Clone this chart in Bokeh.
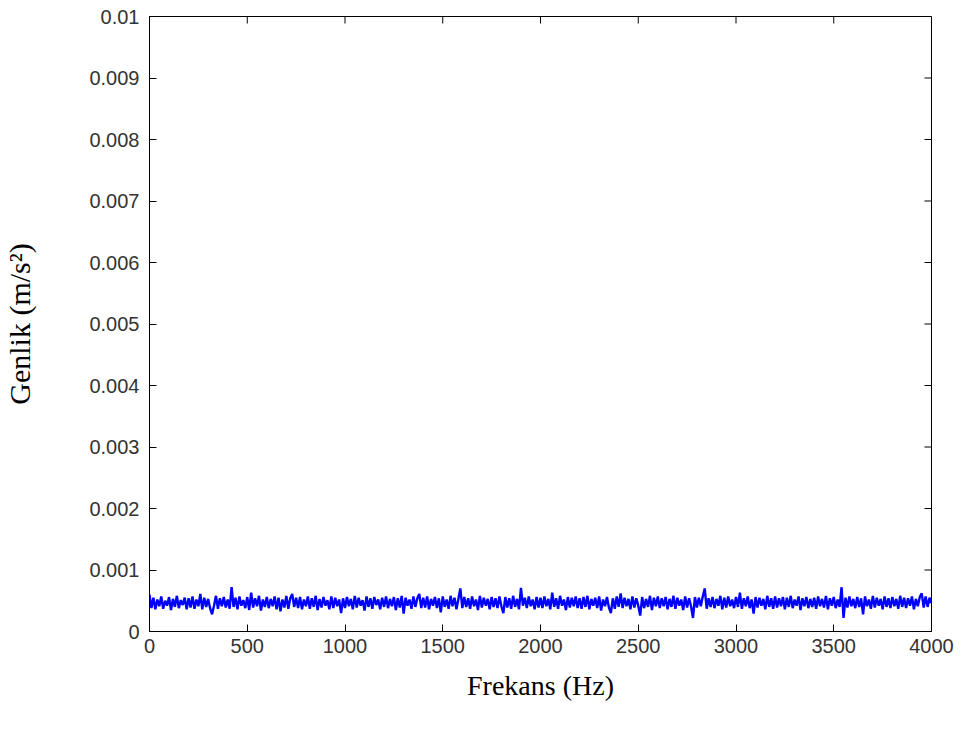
import numpy as np
from bokeh.plotting import figure
from bokeh.models import Range1d, FixedTicker, CustomJSTickFormatter, ColumnDataSource
from bokeh.embed import file_html
from bokeh.resources import INLINE

# Amplitude spectrum, in units of 1e-5 m/s^2, one value every 10 Hz (0..4000 Hz)
amplitude_1e5 = [
    60, 38, 55, 36, 52, 41, 57, 37, 50, 42, 56, 35, 53, 40, 58, 38, 51, 43, 55, 36,
    54, 39, 57, 37, 52, 41, 61, 36, 55, 40, 53, 38, 28, 42, 58, 37, 54, 41, 56, 39,
    52, 37, 72, 40, 55, 36, 57, 42, 51, 38, 56, 35, 63, 39, 54, 41, 58, 34, 52, 40,
    56, 38, 53, 41, 57, 36, 55, 33, 52, 39, 58, 37, 54, 61, 40, 55, 38, 56, 36, 52,
    41, 57, 37, 54, 40, 58, 35, 53, 39, 56, 42, 51, 36, 57, 38, 55, 41, 52, 30, 54,
    38, 56, 41, 53, 36, 58, 39, 55, 42, 51, 34, 57, 40, 54, 37, 56, 43, 52, 36, 55,
    40, 57, 38, 53, 41, 56, 35, 54, 39, 58, 29, 55, 42, 52, 37, 57, 40, 54, 61, 38,
    55, 39, 57, 36, 53, 42, 56, 38, 54, 31, 57, 40, 52, 37, 58, 41, 55, 36, 53, 70,
    38, 56, 40, 54, 37, 57, 41, 52, 35, 58, 39, 55, 42, 53, 36, 56, 40, 54, 38, 57,
    41, 30, 56, 39, 54, 37, 58, 40, 53, 36, 71, 42, 55, 38, 57, 41, 52, 36, 56, 39,
    55, 38, 57, 41, 53, 36, 63, 40, 54, 37, 58, 42, 52, 35, 56, 39, 55, 41, 57, 38,
    54, 37, 56, 40, 58, 36, 53, 42, 55, 38, 57, 34, 52, 41, 56, 39, 30, 54, 37, 57,
    40, 62, 38, 55, 41, 53, 36, 57, 39, 54, 42, 26, 56, 38, 53, 40, 58, 35, 55, 41,
    57, 38, 54, 41, 56, 36, 53, 40, 58, 37, 55, 42, 52, 35, 57, 39, 54, 41, 22, 56,
    39, 55, 41, 57, 70, 37, 54, 40, 56, 38, 53, 42, 58, 36, 55, 39, 57, 41, 52, 38,
    56, 40, 63, 37, 54, 41, 57, 38, 52, 29, 56, 39, 55, 42, 53, 36, 58, 40, 54, 37,
    57, 39, 54, 41, 56, 36, 55, 40, 58, 38, 52, 42, 57, 35, 54, 41, 56, 38, 53, 40,
    55, 37, 57, 41, 53, 39, 58, 36, 54, 42, 56, 38, 52, 40, 72, 22, 55, 39, 57, 41,
    53, 38, 56, 40, 54, 28, 57, 41, 52, 37, 58, 39, 55, 42, 53, 36, 57, 40, 54, 38,
    56, 41, 53, 37, 58, 40, 55, 38, 54, 42, 57, 36, 53, 41, 56, 62, 39, 57, 40, 55,
    46,
]
x_ticks = [0, 500, 1000, 1500, 2000, 2500, 3000, 3500, 4000]
y_ticks = [0, 0.001, 0.002, 0.003, 0.004, 0.005, 0.006, 0.007, 0.008, 0.009, 0.01]
x_min, x_max = 0, 4000
y_min, y_max = 0, 0.01

amp = np.array(amplitude_1e5, dtype=float) * 1e-5
freq = np.linspace(x_min, x_max, len(amp))
src = ColumnDataSource(data=dict(f=freq, a=amp))

p = figure(width=962, height=736, output_backend="svg", toolbar_location=None,
           x_range=Range1d(x_min, x_max), y_range=Range1d(y_min, y_max),
           min_border_left=149, min_border_right=31, min_border_top=16, min_border_bottom=105,
           x_axis_label="Frekans (Hz)", y_axis_label="Genlik (m/s²)")
p.background_fill_color = "white"
p.border_fill_color = "white"
p.outline_line_color = "black"
p.outline_line_width = 1
p.grid.visible = False

p.line("f", "a", source=src, line_color="#0000ff", line_width=2.4)

yfmt = CustomJSTickFormatter(code="""
if (tick === 0) return "0";
return tick.toFixed(3).replace(/0+$/, "");
""")

for ax in p.xaxis:
    ax.ticker = FixedTicker(ticks=x_ticks)
for ax in p.yaxis:
    ax.ticker = FixedTicker(ticks=y_ticks)
    ax.formatter = yfmt

for ax in list(p.xaxis) + list(p.yaxis):
    ax.major_tick_in = 7
    ax.major_tick_out = 0
    ax.minor_tick_in = 0
    ax.minor_tick_out = 0
    ax.axis_line_color = "black"
    ax.major_tick_line_color = "black"
    ax.major_label_text_font = "Liberation Sans"
    ax.major_label_text_font_size = "20px"
    ax.major_label_text_color = "#333333"
    ax.axis_label_text_font = "Liberation Serif"
    ax.axis_label_text_font_style = "normal"
    ax.axis_label_text_color = "black"

p.xaxis.axis_label_text_font_size = "28px"
p.yaxis.axis_label_text_font_size = "30px"
p.xaxis.major_label_standoff = 7
p.xaxis.axis_label_standoff = 14
p.yaxis.major_label_standoff = 10
p.yaxis.axis_label_standoff = 50

# inward tick marks on the top and right edges of the box (MATLAB style)
p.ray(x=x_ticks, y=[y_max] * len(x_ticks), length=7, length_units="screen",
      angle=-np.pi / 2, line_color="black", line_width=1)
p.ray(x=[x_max] * len(y_ticks), y=y_ticks, length=7, length_units="screen",
      angle=np.pi, line_color="black", line_width=1)

open("out.html", "w").write(file_html(p, INLINE))
